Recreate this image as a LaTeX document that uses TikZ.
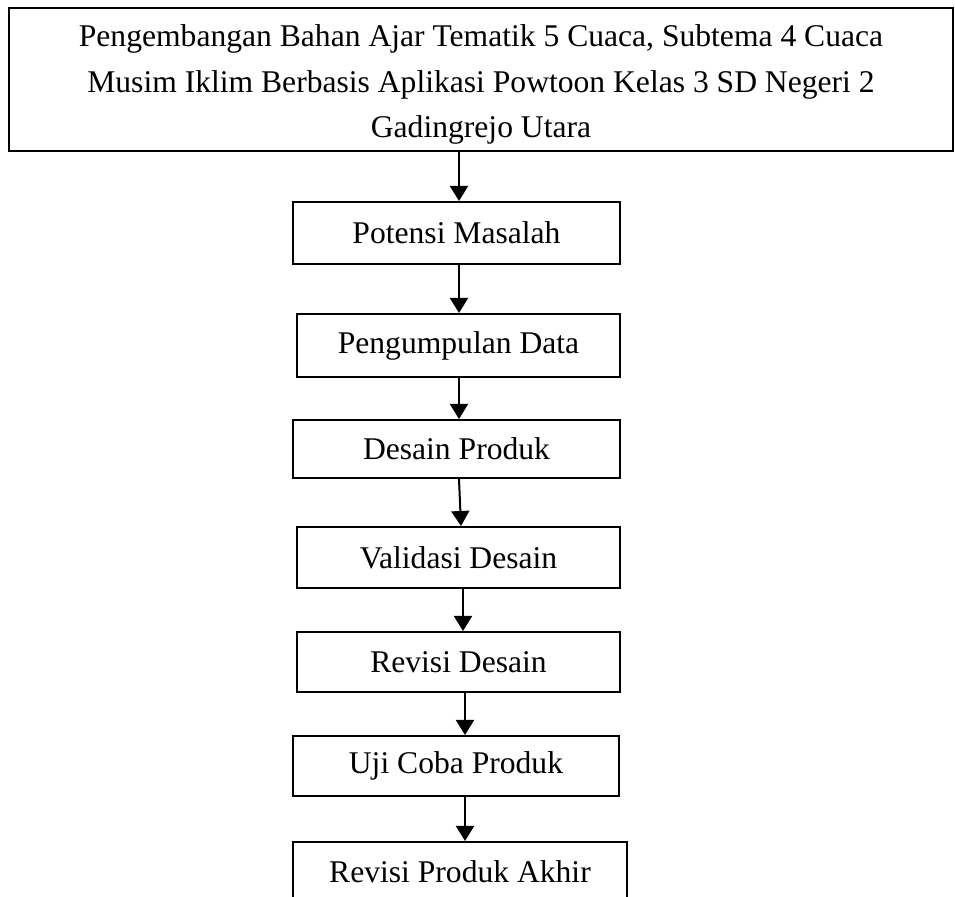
\documentclass[tikz,border=0pt]{standalone}
\usepackage{fontspec}
\setmainfont{Liberation Serif}
\usetikzlibrary{arrows.meta, positioning}

\begin{document}
\begin{tikzpicture}[>={Triangle[length=7.5pt,width=9pt]}, line width=1pt,
  box/.style={draw, rectangle, inner sep=0pt, minimum height=30.5pt,
    font=\fontsize{15.8}{22.75}\selectfont}]
  \useasboundingbox (0,0) rectangle (477.5pt,-448.5pt);
  \clip (0,0) rectangle (477.5pt,-448.5pt);

  \node[box, minimum width=472pt, minimum height=71.5pt](judul) at (240.5pt,-39.75pt) {};
  \node[box, draw=none, align=center](judulteks) at ([yshift=-2.5pt]judul.center)
    {Pengembangan Bahan Ajar Tematik 5 Cuaca, Subtema 4 Cuaca\\
     Musim Iklim Berbasis Aplikasi Powtoon Kelas 3 SD Negeri 2\\
     Gadingrejo Utara};
  \node[box, minimum width=163.5pt, minimum height=31pt](potensi) at (228.25pt,-116.5pt) {Potensi Masalah};
  \node[box, minimum width=161.5pt, minimum height=31.5pt](kumpul) at (229.25pt,-172.75pt) {Pengumpulan Data};
  \node[box, minimum width=163.5pt, minimum height=29pt](desain) at (228.25pt,-224.5pt) {Desain Produk};
  \node[box, minimum width=161.5pt](validasi) at (229.25pt,-278.75pt) {Validasi Desain};
  \node[box, minimum width=161.5pt, minimum height=30pt](revisi) at (229.25pt,-331pt) {Revisi Desain};
  \node[box, minimum width=163pt, minimum height=30pt](uji) at (228pt,-383pt) {Uji Coba Produk};
  \node[box, minimum width=167pt, minimum height=30pt](akhir) at (230pt,-436pt) {Revisi Produk Akhir};

  \draw[->] ([xshift=1.25pt]judul.south -| potensi) -- ([xshift=1.25pt]potensi.north);
  \draw[->] ([xshift=1.25pt]potensi.south) -- ([xshift=0.25pt]kumpul.north);
  \draw[->] ([xshift=0.25pt]kumpul.south) -- ([xshift=1.25pt]desain.north);
  \draw[->] ([xshift=1.25pt]desain.south) -- ([xshift=1.25pt]validasi.north);
  \draw[->] ([xshift=2.25pt]validasi.south) -- ([xshift=2.25pt]revisi.north);
  \draw[->] ([xshift=3.25pt]revisi.south) -- ([xshift=4.5pt]uji.north);
  \draw[->] ([xshift=4.5pt]uji.south) -- ([xshift=2.5pt]akhir.north);
\end{tikzpicture}
\end{document}
